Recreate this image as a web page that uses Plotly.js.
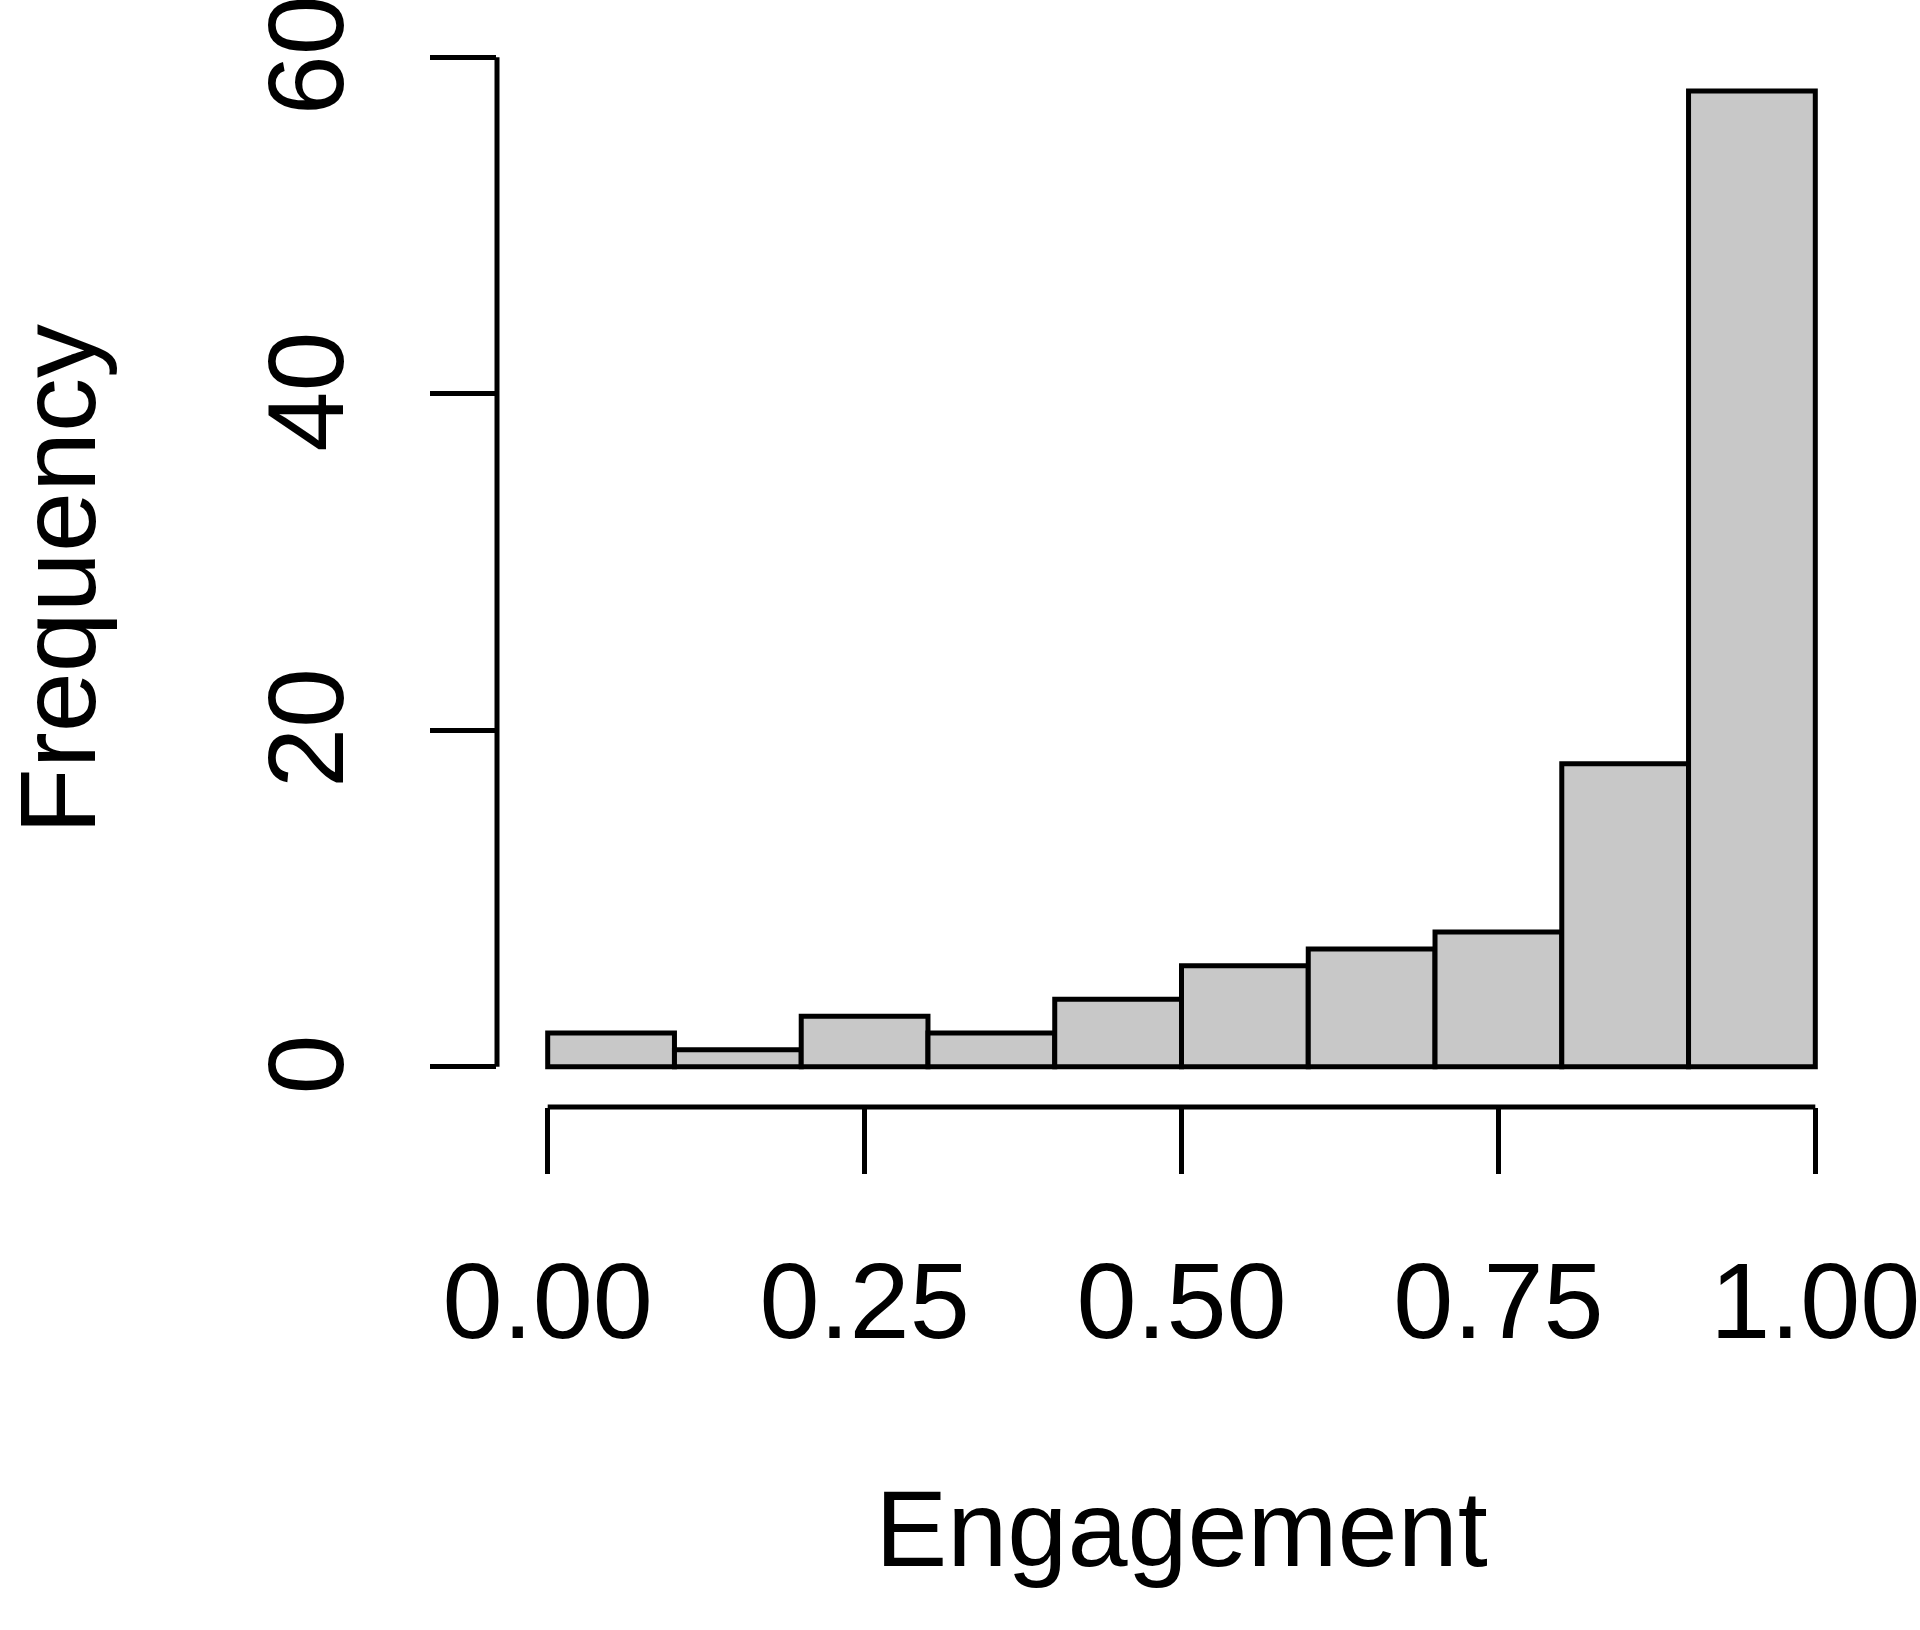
<!DOCTYPE html>
<html>
<head>
<meta charset="utf-8">
<script src="https://cdn.plot.ly/plotly-3.0.1.min.js"></script>
<style>
  body { margin: 0; background: #fff; }
  #hist { width: 1920px; height: 1630px; }
</style>
</head>
<body>
<div id="hist"></div>
<script>
// histogram bins (left edges) and counts
const binStarts = [0, 0.1, 0.2, 0.3, 0.4, 0.5, 0.6, 0.7, 0.8, 0.9];
const binWidth = 0.1;
const counts = [2, 1, 3, 2, 4, 6, 7, 8, 18, 58];

const xTicks = [0, 0.25, 0.5, 0.75, 1];
const xTickLabels = ["0.00", "0.25", "0.50", "0.75", "1.00"];
const yTicks = [0, 20, 40, 60];
const yTickLabels = ["0", "20", "40", "60"];

const font = "Liberation Sans, Arial, Helvetica, sans-serif";

const drawHist = () => {
  const data = [{
    type: "bar",
    x: binStarts.map(b => b + binWidth / 2),
    y: counts,
    width: binWidth,
    marker: {
      color: "#c8c8c8",
      line: {color: "#000", width: 5}
    },
    hoverinfo: "x+y"
  }];

  const layout = {
    width: 1920,
    height: 1630,
    margin: {l: 497, r: 54, t: 17, b: 523},
    paper_bgcolor: "#fff",
    plot_bgcolor: "#fff",
    showlegend: false,
    font: {family: font, size: 108, color: "#000"},
    xaxis: {
      range: [-0.04, 1.04],
      tickvals: xTicks,
      ticktext: xTickLabels,
      ticks: "outside",
      ticklen: 66,
      tickwidth: 5,
      tickcolor: "#000",
      ticklabelstandoff: 34,
      ticklabeloverflow: "allow",
      showgrid: false,
      zeroline: false,
      showline: false,
      tickfont: {size: 108},
      title: {text: "Engagement", font: {size: 108}, standoff: 130}
    },
    yaxis: {
      range: [-2.4, 62.4],
      tickvals: yTicks,
      ticktext: yTickLabels,
      tickangle: -90,
      ticks: "outside",
      ticklen: 66,
      tickwidth: 5,
      tickcolor: "#000",
      ticklabelstandoff: 44,
      ticklabelshift: 14,
      ticklabeloverflow: "allow",
      showgrid: false,
      zeroline: false,
      showline: false,
      tickfont: {size: 108}
    },
    // y title as annotation so it can sit right at the left edge
    annotations: [{
      text: "Frequency",
      textangle: -90,
      xref: "paper", yref: "paper",
      x: -0.3214, y: 0.4842,
      xanchor: "center", yanchor: "middle",
      showarrow: false,
      font: {size: 108}
    }],
    shapes: [
      {type: "line", xref: "paper", yref: "y", x0: 0, x1: 0,
       y0: yTicks[0], y1: yTicks[yTicks.length - 1],
       line: {color: "#000", width: 5}},
      {type: "line", xref: "x", yref: "paper", y0: 0, y1: 0,
       x0: xTicks[0], x1: xTicks[xTicks.length - 1],
       line: {color: "#000", width: 5}}
    ]
  };

  Plotly.newPlot("hist", data, layout, {displayModeBar: false, staticPlot: true});
}

drawHist();
</script>
</body>
</html>
